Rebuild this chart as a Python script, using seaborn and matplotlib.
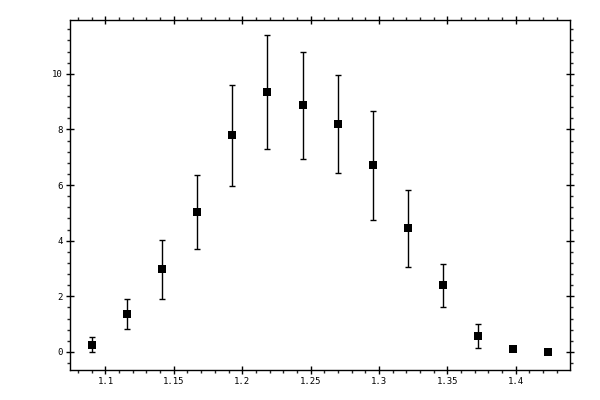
import matplotlib
matplotlib.use("Agg")
import matplotlib.pyplot as plt
import numpy as np
import pandas as pd
import seaborn as sns
from matplotlib.ticker import MultipleLocator

# values
x_vals = [1.0905, 1.1161, 1.1417, 1.1673, 1.1929, 1.2185, 1.2441,
          1.2697, 1.2953, 1.3209, 1.3465, 1.3721, 1.3977, 1.4233]
y_vals = [0.25, 1.36, 2.97, 5.03, 7.79, 9.34, 8.87,
          8.19, 6.72, 4.44, 2.40, 0.56, 0.11, 0.00]
y_err = [0.27, 0.54, 1.07, 1.34, 1.82, 2.06, 1.92,
         1.76, 1.96, 1.37, 0.77, 0.43, 0.05, 0.01]

df = pd.DataFrame({"x": x_vals, "y": y_vals, "err": y_err})

sns.set_style("ticks")
plt.rcParams["font.family"] = ["DejaVu Sans Mono"]

fig = plt.figure(figsize=(6, 4), dpi=100)
ax = fig.add_axes([0.116, 0.075, 0.834, 0.876])

ax.errorbar(df["x"], df["y"], yerr=df["err"], fmt="none", ecolor="black",
            elinewidth=1.0, capsize=2.3, capthick=1.0)
sns.scatterplot(data=df, x="x", y="y", marker="s", s=26, color="black",
                edgecolor="black", linewidth=0, ax=ax, zorder=3)

ax.set_xlim(1.0738, 1.4397)
ax.set_ylim(-0.65, 11.95)
ax.xaxis.set_minor_locator(MultipleLocator(0.01))
ax.yaxis.set_minor_locator(MultipleLocator(0.4))
ax.set_xticks([1.1, 1.15, 1.2, 1.25, 1.3, 1.35, 1.4])
ax.set_xticklabels(["1.1", "1.15", "1.2", "1.25", "1.3", "1.35", "1.4"])
ax.set_yticks([0, 2, 4, 6, 8, 10])
ax.set_yticklabels(["0", "2", "4", "6", "8", "10"])

ax.tick_params(which="major", direction="inout", length=6, width=1,
               labelsize=6.5, colors="black", top=True, right=True)
ax.tick_params(which="minor", direction="out", length=2.3, width=1,
               top=True, right=True)
ax.tick_params(axis="x", which="major", pad=2)
ax.tick_params(axis="y", which="major", pad=2)
for side in ["left", "right", "top", "bottom"]:
    ax.spines[side].set_visible(True)
    ax.spines[side].set_color("black")
    ax.spines[side].set_linewidth(1)
ax.set_xlabel("")
ax.set_ylabel("")

fig.savefig("out.png", dpi=100)
